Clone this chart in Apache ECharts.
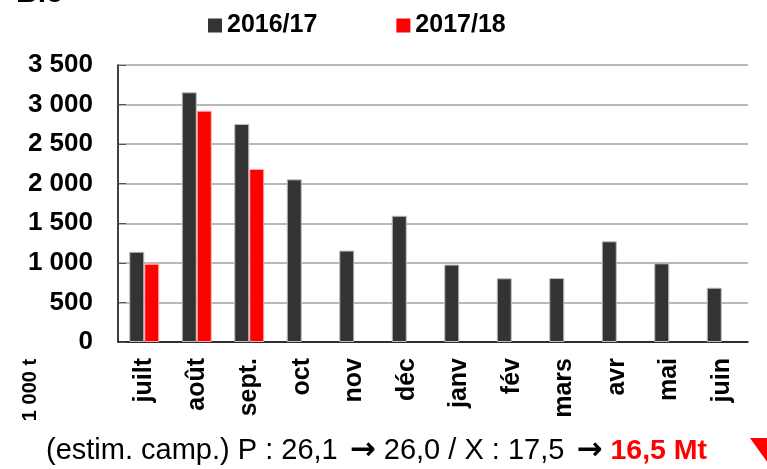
<!DOCTYPE html>
<html>
<head>
<meta charset="utf-8">
<script src="https://cdn.jsdelivr.net/npm/echarts@6/dist/echarts.min.js"></script>
<style>
  html, body { margin: 0; padding: 0; background: #fff; }
  #chart { width: 767px; height: 469px; }
</style>
</head>
<body>
<div id="chart"></div>
<script>
"use strict";

const months = ["juilt", "août", "sept.", "oct", "nov", "déc", "janv", "fév", "mars", "avr", "mai", "juin"];
const v1617 = [1140, 3155, 2755, 2055, 1155, 1595, 978, 805, 808, 1272, 994, 686];
const v1718 = [988, 2923, 2186, null, null, null, null, null, null, null, null, null];
const seriesNames = ["2016/17", "2017/18"];
const yTicks = { min: 0, max: 3500, interval: 500 };

const FONT = "Liberation Sans, Arial, sans-serif";
const fmtNum = (v) => String(v).replace(/\B(?=(\d{3})+(?!\d))/g, " ");

const chart = echarts.init(document.getElementById("chart"), null, { renderer: "canvas" });

chart.setOption({
  animation: false,
  backgroundColor: "#fff",
  textStyle: { fontFamily: FONT },
  grid: { left: 118, right: 19, top: 65, bottom: 127, containLabel: false },
  legend: {
    left: 203, top: 8,
    itemWidth: 14, itemHeight: 14, itemGap: 79,
    icon: "rect",
    itemStyle: { borderWidth: 0 },
    textStyle: { fontSize: 25, fontWeight: "bold", color: "#000", fontFamily: FONT },
    data: seriesNames,
  },
  xAxis: {
    type: "category",
    data: months,
    axisLine: { lineStyle: { color: "#000", width: 1.5 } },
    axisTick: { show: false },
    axisLabel: { rotate: 90, margin: 16, fontSize: 25, fontWeight: "bold", color: "#000", fontFamily: FONT },
  },
  yAxis: {
    type: "value",
    min: yTicks.min, max: yTicks.max, interval: yTicks.interval,
    axisLine: { show: true, lineStyle: { color: "#000", width: 1.5 } },
    axisTick: { show: true, inside: true, length: 8, lineStyle: { color: "#555" } },
    splitLine: { lineStyle: { color: "#a0a0a0", width: 1.5 } },
    axisLabel: { margin: 25, fontSize: 26, fontWeight: "bold", color: "#000", fontFamily: FONT, formatter: fmtNum },
  },
  series: [
    {
      name: seriesNames[0], type: "bar", data: v1617, barWidth: 15, barGap: "0%",
      itemStyle: { color: "#333333", borderColor: "#bdbdbd", borderWidth: 1 },
    },
    {
      name: seriesNames[1], type: "bar", data: v1718, barWidth: 15,
      itemStyle: { color: "#ff0000", borderColor: "#ffb0b0", borderWidth: 1 },
    },
  ],
  graphic: [
    { type: "text", left: 16, top: -21, style: { text: "Blé", fontSize: 30, fontWeight: "bold", fill: "#000", fontFamily: FONT } },
    {
      type: "text", x: 30, y: 390, rotation: Math.PI / 2,
      style: { text: "1 000 t", fontSize: 20, fontWeight: "bold", fill: "#000", fontFamily: FONT, align: "center", verticalAlign: "middle" },
    },
    {
      type: "text", x: 46, y: 451,
      style: {
        text: "{a|(estim. camp.) P : 26,1 }{r|→}{a| 26,0 / X : 17,5 }{r|→}{a| }{b|16,5 Mt}",
        verticalAlign: "middle",
        rich: {
          a: { fontSize: 29, fill: "#000", fontFamily: FONT },
          r: { fontSize: 31, fill: "#000", fontFamily: "DejaVu Sans", fontWeight: "bold", padding: [0, 0, 0, 4] },
          b: { fontSize: 28.5, fontWeight: "bold", fill: "#ff0000", fontFamily: FONT },
        },
      },
    },
    { type: "polygon", shape: { points: [[750, 438], [790, 438], [770, 466]] }, style: { fill: "#ff0000" } },
  ],
});
</script>
</body>
</html>
